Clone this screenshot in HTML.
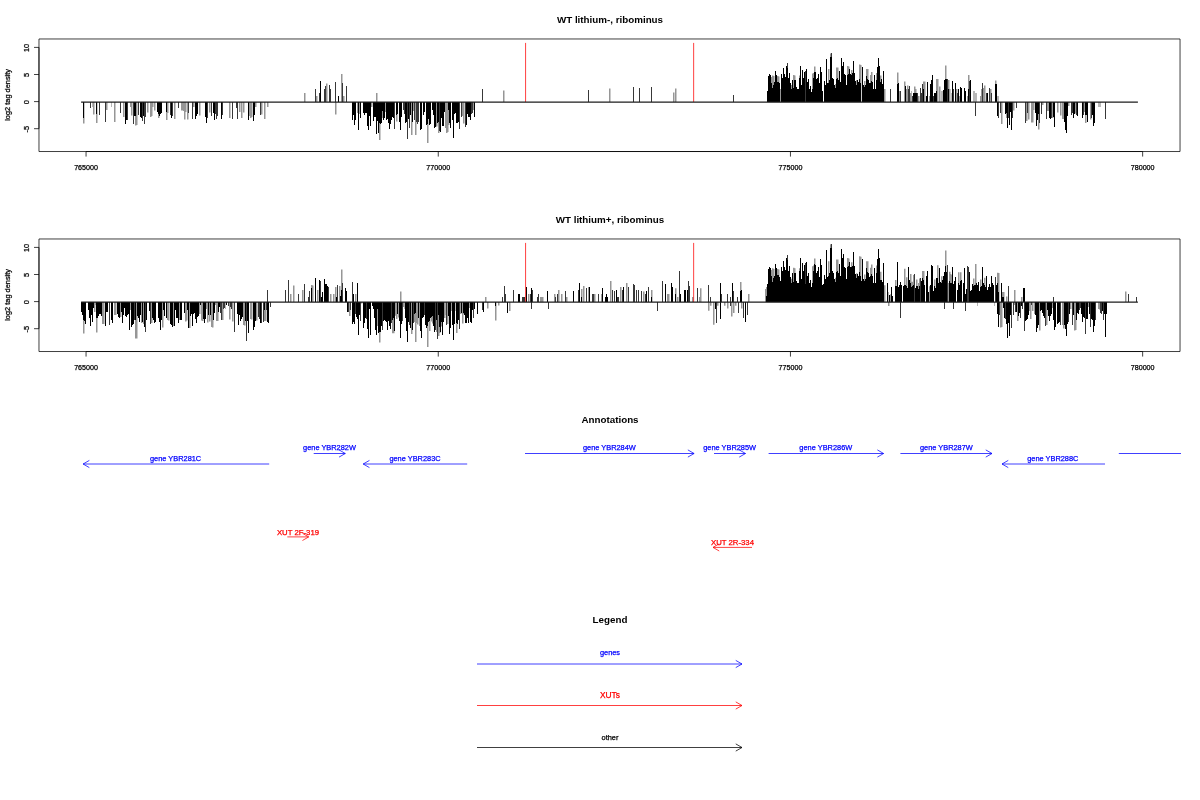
<!DOCTYPE html>
<html lang="en"><head><meta charset="utf-8"><title>WT lithium ribominus tag density</title>
<style>html,body{margin:0;padding:0;background:#fff}svg{display:block}text{font-family:'Liberation Sans', sans-serif;fill:#000}.ax{font-size:7.15px}.yl{font-size:7.4px}.ti{font-size:9.8px;font-weight:bold}.an{font-size:7.4px;stroke-width:0.25px}.ax{stroke:#000;stroke-width:0.25px}</style></head><body>
<svg width="1200" height="800" viewBox="0 0 1200 800">
<rect width="1200" height="800" fill="#fff"/>
<g class="bars" fill="none" stroke-width="1" shape-rendering="crispEdges">
<path d="M92.5 102v5M111.5 102v5M911.5 102v-11.1M941.5 102v-11.1M942.5 102v-11.1M951.5 102v-9.1M973.5 102v-11.1M974.5 102v-11.1M975.5 102v-9.1M976.5 102v-9.1M997.5 102v-6.1M998.5 102v-6.1M1098.5 102v5M1099.5 102v5M1100.5 102v5" stroke="#b8b8b8"/>
<path d="M83.75 102v21.5M93.75 102v12.5M96.75 102v21M106.75 102v8M114.75 102v20M123.75 102v15M130.75 102v5M131.75 102v13.5M135.75 102v23.5M136.75 102v23M147.75 102v10.5M150.75 102v15M151.75 102v14M152.75 102v5M154.75 102v8.5M158.75 102v16M166.75 102v18M167.75 102v11M174.75 102v17M181.75 102v8.5M182.75 102v8.5M183.75 102v9M184.75 102v17.5M185.75 102v10M187.75 102v17.5M193.75 102v5M199.75 102v13.5M209.75 102v10.5M229.75 102v16M239.75 102v10M241.75 102v16M243.75 102v10.5M249.75 102v14M250.75 102v16M251.75 102v15M255.75 102v5M261.75 102v12.5M264.75 102v17M267.75 102v5M304.75 102v-9.1M316.75 102v-6.1M326.75 102v-18.6M335.75 102v12.5M341.75 102v-28.1M343.75 102v-6.1M357.75 102v11M359.75 102v12M371.75 102v5M376.75 102v-9.1M379.75 102v38M382.75 102v16M385.75 102v10M396.75 102v19.5M411.75 102v33M413.75 102v9M415.75 102v33M427.75 102v41M436.75 102v24.5M438.75 102v31M445.75 102v26M446.75 102v31M447.75 102v30M448.75 102v23M462.75 102v14M463.75 102v21.5M473.75 102v8M503.75 102v-11.6M609.75 102v-13.6M673.75 102v-9.6M675.75 102v-13.6M771.75 102v-25.1M772.75 102v-26.6M773.75 102v-26.1M777.75 102v-26.1M778.75 102v-25.6M780.75 102v-13.1M791.75 102v-17.1M793.75 102v-27.1M794.75 102v-26.6M799.75 102v-26.6M812.75 102v-28.6M813.75 102v-29.1M814.75 102v-35.6M828.75 102v-33.1M830.75 102v-48.6M835.75 102v-18.1M836.75 102v-34.6M837.75 102v-34.6M847.75 102v-36.1M848.75 102v-35.6M851.75 102v-32.1M856.75 102v-22.1M859.75 102v-37.6M860.75 102v-37.1M864.75 102v-21.1M866.75 102v-33.1M867.75 102v-33.1M870.75 102v-27.1M871.75 102v-30.1M876.75 102v-29.1M880.75 102v-26.6M884.75 102v-13.1M897.75 102v-29.6M899.75 102v-11.1M904.75 102v-20.6M906.75 102v-13.1M907.75 102v-16.6M910.75 102v-9.1M914.75 102v-15.6M915.75 102v-13.1M918.75 102v-6.1M923.75 102v-20.6M924.75 102v-20.6M929.75 102v-6.1M936.75 102v-23.1M937.75 102v-23.1M939.75 102v-15.6M945.75 102v-36.6M948.75 102v-22.1M949.75 102v-13.1M956.75 102v-13.1M959.75 102v-6.1M967.75 102v-6.1M968.75 102v-27.1M980.75 102v-6.1M981.75 102v-13.1M983.75 102v-14.1M984.75 102v-16.6M990.75 102v-13.1M995.75 102v-21.6M1001.75 102v22M1006.75 102v16M1013.75 102v8.5M1026.75 102v19M1028.75 102v17.5M1031.75 102v20.5M1032.75 102v20.5M1033.75 102v8M1038.75 102v27.5M1042.75 102v3M1047.75 102v9M1048.75 102v9M1052.75 102v16M1057.75 102v10.5M1060.75 102v13.5M1062.75 102v17M1063.75 102v17M1068.75 102v4M1075.75 102v11.5M1084.75 102v10M1085.75 102v21M1090.75 102v17.5" stroke="#969696" stroke-width="1.5" shape-rendering="auto"/>
<path d="M90.5 102v5.5M99.5 102v12.5M105.5 102v19.5M120.5 102v11M127.5 102v17.5M133.5 102v22M138.5 102v12.5M142.5 102v19M144.5 102v22M145.5 102v15M170.5 102v13M172.5 102v14M178.5 102v5.5M188.5 102v11M192.5 102v17M207.5 102v16M211.5 102v13.5M215.5 102v12M216.5 102v16.5M217.5 102v14M222.5 102v13M232.5 102v17M236.5 102v6M237.5 102v17M260.5 102v12.5M315.5 102v-13.1M319.5 102v-9.1M324.5 102v-13.1M325.5 102v-16.1M329.5 102v-17.1M330.5 102v-13.1M335.5 102v-20.1M342.5 102v-18.6M346.5 102v-16.1M394.5 102v27M403.5 102v8M404.5 102v12M407.5 102v37M409.5 102v26M414.5 102v18M416.5 102v20M417.5 102v22M418.5 102v20M439.5 102v29M459.5 102v27M461.5 102v14.5M465.5 102v24.5M471.5 102v12M472.5 102v11M482.5 102v-13.1M588.5 102v-11.6M633.5 102v-15.1M639.5 102v-13.6M651.5 102v-15.1M733.5 102v-6.6M787.5 102v-39.1M805.5 102v-31.1M831.5 102v-48.6M890.5 102v-13.1M900.5 102v-11.1M908.5 102v-13.1M909.5 102v-15.6M912.5 102v-6.1M917.5 102v-9.1M920.5 102v-14.1M921.5 102v-9.1M922.5 102v-17.6M933.5 102v-6.1M947.5 102v-22.6M953.5 102v-13.1M957.5 102v-9.1M969.5 102v-21.1M975.5 102v13.8M982.5 102v-19.1M986.5 102v-9.1M989.5 102v-14.1M991.5 102v-9.1M998.5 102v16M1000.5 102v11M1008.5 102v16M1012.5 102v16M1016.5 102v5.5M1025.5 102v21M1027.5 102v11M1039.5 102v21M1041.5 102v12M1046.5 102v17M1051.5 102v15.5M1071.5 102v12.5M1072.5 102v11M1076.5 102v13M1083.5 102v12.5M1091.5 102v15.5M1105.5 102v17" stroke="#383838"/>
<path d="M83.5 102v16M96.5 102v12M125.5 102v22M126.5 102v18M134.5 102v14M135.5 102v14M140.5 102v15M141.5 102v16M143.5 102v14M157.5 102v10M158.5 102v12M159.5 102v14M160.5 102v12M161.5 102v10.5M166.5 102v10M171.5 102v16M195.5 102v17M196.5 102v14M197.5 102v12M205.5 102v15M206.5 102v20.5M213.5 102v11M214.5 102v17.5M221.5 102v17M248.5 102v17.5M253.5 102v18.5M254.5 102v13M320.5 102v-21.1M338.5 102v-6.1M352.5 102v18M353.5 102v13M354.5 102v22.5M355.5 102v17.5M358.5 102v27.5M360.5 102v16M363.5 102v11M364.5 102v12.5M365.5 102v11M366.5 102v11M367.5 102v24M368.5 102v28M369.5 102v14M370.5 102v24M373.5 102v19M374.5 102v15M375.5 102v15M376.5 102v31.5M377.5 102v19M378.5 102v31M379.5 102v21M380.5 102v22M381.5 102v21M382.5 102v9M383.5 102v18M384.5 102v16M386.5 102v18M387.5 102v17M388.5 102v21M389.5 102v26.5M390.5 102v22M391.5 102v18M392.5 102v15M393.5 102v15.5M396.5 102v12.5M397.5 102v12M399.5 102v20M400.5 102v27.5M401.5 102v15M405.5 102v21M406.5 102v20M408.5 102v17M410.5 102v13M412.5 102v19.5M420.5 102v28M421.5 102v27M423.5 102v13M424.5 102v10M426.5 102v23M427.5 102v22M428.5 102v17M429.5 102v23M430.5 102v22M432.5 102v8M433.5 102v12.5M434.5 102v26M435.5 102v25M437.5 102v21M438.5 102v20M440.5 102v29.5M441.5 102v16M442.5 102v24M443.5 102v24M444.5 102v10M448.5 102v8M449.5 102v21M450.5 102v26M452.5 102v18M453.5 102v36M454.5 102v12M455.5 102v10.5M456.5 102v21M457.5 102v21M458.5 102v19.5M466.5 102v23M467.5 102v12M468.5 102v14.5M469.5 102v15M470.5 102v17.5M474.5 102v15M767.5 102v-11.1M768.5 102v-26.1M769.5 102v-27.6M770.5 102v-27.1M771.5 102v-19.1M772.5 102v-14.1M773.5 102v-17.1M774.5 102v-20.1M775.5 102v-30.6M776.5 102v-27.1M777.5 102v-20.1M778.5 102v-20.1M779.5 102v-19.1M781.5 102v-27.6M782.5 102v-24.1M783.5 102v-33.6M784.5 102v-28.1M785.5 102v-25.1M786.5 102v-35.6M787.5 102v-34.1M788.5 102v-24.1M789.5 102v-28.6M790.5 102v-19.1M791.5 102v-13.1M792.5 102v-22.1M793.5 102v-14.1M794.5 102v-22.1M795.5 102v-22.1M796.5 102v-15.1M797.5 102v-13.1M798.5 102v-13.1M799.5 102v-24.1M800.5 102v-35.9M801.5 102v-17.1M802.5 102v-31.6M803.5 102v-24.1M804.5 102v-29.6M806.5 102v-32.6M807.5 102v-20.1M808.5 102v-22.6M809.5 102v-13.1M810.5 102v-15.6M811.5 102v-10.1M812.5 102v-13.1M813.5 102v-24.1M814.5 102v-30.1M815.5 102v-30.1M816.5 102v-22.6M817.5 102v-24.1M818.5 102v-27.6M819.5 102v-19.1M820.5 102v-35.1M821.5 102v-30.1M822.5 102v-11.1M824.5 102v-20.6M825.5 102v-17.1M826.5 102v-43.1M827.5 102v-19.1M828.5 102v-19.1M829.5 102v-22.1M830.5 102v-45.1M831.5 102v-44.6M832.5 102v-24.1M833.5 102v-22.6M834.5 102v-17.1M835.5 102v-14.1M836.5 102v-23.1M837.5 102v-24.1M838.5 102v-22.1M839.5 102v-30.6M840.5 102v-20.1M841.5 102v-44.1M842.5 102v-36.1M843.5 102v-39.6M844.5 102v-28.1M845.5 102v-26.6M846.5 102v-17.1M847.5 102v-27.1M848.5 102v-28.1M849.5 102v-32.6M850.5 102v-28.1M851.5 102v-27.1M852.5 102v-29.1M853.5 102v-41.1M854.5 102v-29.1M855.5 102v-21.1M856.5 102v-17.1M857.5 102v-21.6M858.5 102v-20.1M859.5 102v-23.1M860.5 102v-19.1M862.5 102v-35.1M863.5 102v-17.1M864.5 102v-15.1M865.5 102v-17.1M866.5 102v-26.1M867.5 102v-23.1M868.5 102v-22.1M869.5 102v-19.1M870.5 102v-19.1M871.5 102v-21.1M872.5 102v-20.1M873.5 102v-13.1M874.5 102v-26.6M875.5 102v-13.1M876.5 102v-22.1M877.5 102v-35.1M878.5 102v-44.1M879.5 102v-36.1M880.5 102v-20.1M881.5 102v-23.1M882.5 102v-18.1M883.5 102v-31.1M897.5 102v-18.1M898.5 102v-18.6M905.5 102v-16.1M913.5 102v-9.1M914.5 102v-9.1M915.5 102v-9.1M916.5 102v-9.1M923.5 102v-13.1M926.5 102v-6.1M927.5 102v-20.1M930.5 102v-17.6M931.5 102v-22.1M932.5 102v-27.1M934.5 102v-9.1M935.5 102v-9.1M936.5 102v-11.1M943.5 102v-11.6M944.5 102v-22.1M945.5 102v-22.6M946.5 102v-22.6M948.5 102v-13.1M952.5 102v-21.1M955.5 102v-19.1M958.5 102v-13.1M960.5 102v-14.6M961.5 102v-14.1M964.5 102v-14.1M965.5 102v-11.1M968.5 102v-13.1M970.5 102v-22.1M987.5 102v-9.1M995.5 102v-18.1M996.5 102v-18.1M997.5 102v14M1005.5 102v12M1006.5 102v11M1007.5 102v26M1009.5 102v23M1010.5 102v10M1011.5 102v27.5M1035.5 102v10.5M1036.5 102v23.5M1037.5 102v18M1038.5 102v12M1049.5 102v15.5M1050.5 102v17M1053.5 102v14.5M1054.5 102v24.5M1064.5 102v20M1065.5 102v27.5M1066.5 102v30.8M1067.5 102v14M1073.5 102v16M1074.5 102v12M1077.5 102v14M1082.5 102v15.5M1085.5 102v13M1086.5 102v13M1087.5 102v20M1092.5 102v13M1093.5 102v23.5M1094.5 102v21" stroke="#000"/>
</g>
<path d="M525.58 42.9 V102 M693.65 42.9 V102" stroke="#ff0000" stroke-width="0.75" fill="none"/>
<line x1="81.1" y1="102.15" x2="1137.9" y2="102.15" stroke="#1c1c1c" stroke-width="1.2"/>
<rect x="38.97" y="38.97" width="1141.07" height="112.56" fill="none" stroke="#000" stroke-width="0.75" stroke-linejoin="round"/>
<path d="M38.97 47.4V128.7M86.05 151.53H1142.65M38.97 47.4H34.02M38.97 74.5H34.02M38.97 101.6H34.02M38.97 128.7H34.02M86.05 151.53V156.58M438.25 151.53V156.58M790.45 151.53V156.58M1142.65 151.53V156.58" stroke="#000" stroke-width="0.75" fill="none"/>
<text class="ax yl" text-anchor="middle" transform="translate(29.05 47.9) rotate(-90)">10</text>
<text class="ax yl" text-anchor="middle" transform="translate(29.05 75) rotate(-90)">5</text>
<text class="ax yl" text-anchor="middle" transform="translate(29.05 102.1) rotate(-90)">0</text>
<text class="ax yl" text-anchor="middle" transform="translate(29.05 129.2) rotate(-90)">-5</text>
<text class="ax" text-anchor="middle" x="86.05" y="169.9">765000</text>
<text class="ax" text-anchor="middle" x="438.25" y="169.9">770000</text>
<text class="ax" text-anchor="middle" x="790.45" y="169.9">775000</text>
<text class="ax" text-anchor="middle" x="1142.65" y="169.9">780000</text>
<text class="ax yl" text-anchor="middle" transform="translate(9.85 94.9) rotate(-90)">log2 tag density</text>
<text class="ti" text-anchor="middle" x="610" y="23">WT lithium-, ribominus</text>
<g class="bars" fill="none" stroke-width="1" shape-rendering="crispEdges">
<path d="M225.5 302v7M404.5 302v7.4M445.5 302v12.6M455.5 302v9M888.5 302v-10.1M977.5 302v4M994.5 302v4" stroke="#b8b8b8"/>
<path d="M83.75 302v31.5M94.75 302v10M95.75 302v3M96.75 302v30.5M102.75 302v22M103.75 302v22M114.75 302v13M115.75 302v13M120.75 302v15M130.75 302v8M135.75 302v36.5M136.75 302v36.5M141.75 302v21M143.75 302v22M151.75 302v21M162.75 302v25.5M167.75 302v18M168.75 302v18.5M173.75 302v24M179.75 302v18M185.75 302v19.5M186.75 302v18.5M189.75 302v26M199.75 302v12M201.75 302v18.5M202.75 302v19M206.75 302v7M207.75 302v20.5M209.75 302v19.5M211.75 302v25M212.75 302v25.5M215.75 302v3M216.75 302v19M217.75 302v19M222.75 302v18M229.75 302v17.5M232.75 302v19.5M243.75 302v23M244.75 302v23.5M250.75 302v17M251.75 302v17.5M256.75 302v18.5M264.75 302v19M265.75 302v19M290.75 302v-8.1M293.75 302v-16.6M302.75 302v-12.1M311.75 302v-17.1M312.75 302v-16.6M317.75 302v-12.1M330.75 302v-8.1M333.75 302v-8.1M335.75 302v-15.1M339.75 302v-16.1M341.75 302v-32.6M349.75 302v14M355.75 302v-8.1M361.75 302v1.5M377.75 302v24M379.75 302v40.4M392.75 302v31.3M393.75 302v31.3M395.75 302v13.7M396.75 302v17M398.75 302v15.6M400.75 302v-10.6M403.75 302v5M411.75 302v32M414.75 302v20M415.75 302v40M416.75 302v21M417.75 302v22.4M419.75 302v24M427.75 302v45M429.75 302v29M431.75 302v19.4M432.75 302v21.6M436.75 302v30M438.75 302v34M439.75 302v31M441.75 302v24.5M444.75 302v16M447.75 302v22M451.75 302v9M456.75 302v31M460.75 302v12M462.75 302v21.6M463.75 302v12M469.75 302v6M485.75 302v-5.1M487.75 302v6.5M495.75 302v18.5M498.75 302v3.5M509.75 302v9M528.75 302v-8.1M540.75 302v-5.1M541.75 302v-5.1M542.75 302v-5.1M554.75 302v-8.1M558.75 302v-12.1M561.75 302v-8.1M566.75 302v-5.1M581.75 302v-13.1M583.75 302v-16.1M588.75 302v-14.9M594.75 302v-8.1M601.75 302v-8.1M610.75 302v-20.9M620.75 302v-14.9M626.75 302v-18.9M643.75 302v-10.4M651.75 302v-12.1M667.75 302v-8.1M668.75 302v-8.1M675.75 302v-13.8M677.75 302v-5.1M692.75 302v-5.1M699.75 302v-5.1M700.75 302v-13.8M708.75 302v8.8M710.75 302v3.7M713.75 302v22.8M717.75 302v3.7M724.75 302v3.7M727.75 302v6.5M731.75 302v14.4M733.75 302v11M735.75 302v3.7M740.75 302v-20M741.75 302v6.5M748.75 302v-8.1M765.75 302v-13.1M766.75 302v-15.1M771.75 302v-32M772.75 302v-33.65M773.75 302v-33.1M777.75 302v-33.1M778.75 302v-32.55M780.75 302v-18.8M791.75 302v-23.2M793.75 302v-34.2M794.75 302v-33.65M799.75 302v-33.65M812.75 302v-35.85M813.75 302v-36.4M814.75 302v-43.55M828.75 302v-40.8M830.75 302v-57.85M835.75 302v-24.3M836.75 302v-42.45M837.75 302v-42.45M847.75 302v-44.1M848.75 302v-43.55M851.75 302v-39.7M856.75 302v-28.7M859.75 302v-45.75M860.75 302v-45.2M864.75 302v-27.6M866.75 302v-40.8M867.75 302v-40.8M870.75 302v-34.2M871.75 302v-37.5M876.75 302v-36.4M880.75 302v-30.35M884.75 302v-16.85M888.75 302v4M890.75 302v-7.85M895.75 302v-21.91M904.75 302v-33.16M906.75 302v-24.72M910.75 302v-28.1M911.75 302v-20.22M912.75 302v-20.22M913.75 302v-26.97M916.75 302v-22.47M918.75 302v-19.1M919.75 302v-23.6M922.75 302v-30.91M923.75 302v-30.91M929.75 302v-15.72M934.75 302v-22.47M937.75 302v-36.87M941.75 302v-25.85M945.75 302v-51.49M948.75 302v-19.1M949.75 302v-30.35M950.75 302v-28.1M951.75 302v-26.97M958.75 302v-29.78M960.75 302v-29.78M973.75 302v-23.6M975.75 302v-38M980.75 302v-22.47M984.75 302v-24.16M997.75 302v-29.22M998.75 302v-29.1M1000.75 302v25.5M1001.75 302v25M1002.75 302v-10.1M1003.75 302v-10.1M1006.75 302v-5.5M1014.75 302v3M1014.75 302v-12.1M1017.75 302v19M1021.75 302v-5.1M1029.75 302v9M1030.75 302v17M1032.75 302v9M1034.75 302v12M1039.75 302v28.5M1046.75 302v23M1052.75 302v6M1062.75 302v23M1063.75 302v26.5M1070.75 302v7M1074.75 302v28.5M1075.75 302v28M1088.75 302v5M1098.75 302v7M1099.75 302v7.5M1125.75 302v-10.4" stroke="#969696" stroke-width="1.5" shape-rendering="auto"/>
<path d="M109.5 302v23M134.5 302v18M145.5 302v29.5M150.5 302v21.5M220.5 302v11M221.5 302v18M223.5 302v7M224.5 302v6M228.5 302v4M230.5 302v5M231.5 302v7M234.5 302v30M246.5 302v38.5M258.5 302v15M259.5 302v17M261.5 302v21M263.5 302v20M266.5 302v8M267.5 302v-12.1M270.5 302v4.5M285.5 302v-12.1M288.5 302v-21.6M298.5 302v-8.1M304.5 302v-17.6M308.5 302v-5.1M309.5 302v-10.6M320.5 302v-20.6M328.5 302v-15.1M337.5 302v-17.1M342.5 302v-19.1M348.5 302v9.5M350.5 302v8M352.5 302v-20.1M355.5 302v12M360.5 302v19M366.5 302v17.4M382.5 302v27.5M391.5 302v20.8M402.5 302v18.6M409.5 302v23M413.5 302v21M424.5 302v12.6M435.5 302v28M437.5 302v37.4M446.5 302v23M459.5 302v27M473.5 302v16M482.5 302v7.7M502.5 302v-5.1M504.5 302v-16.1M505.5 302v-8.1M513.5 302v-12.1M522.5 302v-5.1M523.5 302v-5.1M524.5 302v-5.1M530.5 302v-7.6M531.5 302v6.5M532.5 302v-12.1M537.5 302v-5.1M538.5 302v-8.1M548.5 302v6.5M555.5 302v-5.1M557.5 302v-8.1M565.5 302v-10.8M578.5 302v-12.1M586.5 302v-13.8M592.5 302v-8.1M593.5 302v-8.1M598.5 302v-8.1M612.5 302v-12.1M614.5 302v-10.8M617.5 302v-5.1M618.5 302v-5.1M622.5 302v-12.1M628.5 302v-14.9M633.5 302v-17.7M634.5 302v-16.6M636.5 302v-12.1M638.5 302v-12.1M641.5 302v-10.8M645.5 302v-8.1M648.5 302v-14.9M657.5 302v9.3M662.5 302v-21.3M679.5 302v-31.1M688.5 302v-20.9M689.5 302v-16.1M697.5 302v-13.8M708.5 302v-17M710.5 302v-5.1M716.5 302v20.6M721.5 302v-8.1M727.5 302v-8.1M730.5 302v3.7M730.5 302v-5.1M733.5 302v-10.8M737.5 302v-5.1M738.5 302v11M743.5 302v15.5M747.5 302v13.3M787.5 302v-47.4M805.5 302v-38.6M831.5 302v-57.85M900.5 302v16M914.5 302v-28.1M920.5 302v-24.16M944.5 302v7M947.5 302v-37.32M953.5 302v7M965.5 302v9.3M967.5 302v-35.97M968.5 302v-34.62M995.5 302v-25.1M995.5 302v-25.28M999.5 302v13M1005.5 302v17M1008.5 302v-15.8M1011.5 302v26M1013.5 302v12.5M1015.5 302v9.5M1020.5 302v16M1022.5 302v7M1024.5 302v28.5M1031.5 302v3M1045.5 302v23.5M1053.5 302v-5.1M1060.5 302v22.5M1068.5 302v20M1072.5 302v22.5M1079.5 302v8M1080.5 302v6M1085.5 302v31.5M1090.5 302v24.5M1095.5 302v18M1100.5 302v11M1101.5 302v11.5M1103.5 302v18M1128.5 302v-8.1M1136.5 302v-5.1" stroke="#383838"/>
<path d="M81.5 302v10M82.5 302v13M83.5 302v18M84.5 302v19M85.5 302v22M88.5 302v8M89.5 302v16M90.5 302v24M91.5 302v13M92.5 302v20M93.5 302v6M96.5 302v16M97.5 302v16M98.5 302v14M99.5 302v12M100.5 302v12M101.5 302v14M105.5 302v24M106.5 302v10M107.5 302v10M111.5 302v18M112.5 302v20.5M117.5 302v12M118.5 302v15M119.5 302v15.5M121.5 302v10M122.5 302v20.5M123.5 302v13M124.5 302v6M125.5 302v14M126.5 302v15M127.5 302v13M128.5 302v12M129.5 302v28M131.5 302v24.5M132.5 302v23M133.5 302v22M135.5 302v18M137.5 302v14M138.5 302v16M139.5 302v19.5M140.5 302v13M142.5 302v20M144.5 302v25M146.5 302v18M149.5 302v9M152.5 302v16M153.5 302v18M154.5 302v20.5M155.5 302v20M158.5 302v16M159.5 302v19.5M160.5 302v27.5M161.5 302v18M163.5 302v8M164.5 302v14M166.5 302v16M170.5 302v22M171.5 302v22.5M172.5 302v25M174.5 302v23.5M175.5 302v8M176.5 302v16M177.5 302v16M178.5 302v21M180.5 302v18M181.5 302v17.5M184.5 302v11M187.5 302v8M188.5 302v25.5M190.5 302v14M191.5 302v12M192.5 302v23.5M193.5 302v12M194.5 302v11M195.5 302v17M196.5 302v21M197.5 302v15M198.5 302v14M200.5 302v3M203.5 302v17M204.5 302v20.5M205.5 302v17M208.5 302v13M210.5 302v13M213.5 302v18M214.5 302v11M218.5 302v10M219.5 302v5M226.5 302v3M237.5 302v12M238.5 302v22.5M239.5 302v13M240.5 302v18.5M241.5 302v17M242.5 302v15M245.5 302v19M247.5 302v19M248.5 302v30.5M253.5 302v27.5M254.5 302v25M255.5 302v19M260.5 302v21M264.5 302v8M267.5 302v19.5M268.5 302v20.5M311.5 302v-14.1M315.5 302v-24.1M319.5 302v-22.1M321.5 302v-5.1M322.5 302v-10.1M324.5 302v-23.1M325.5 302v-17.6M326.5 302v-17.6M327.5 302v-16.1M336.5 302v-5.1M340.5 302v-6.1M341.5 302v-12.1M345.5 302v-14.1M346.5 302v-11.1M347.5 302v9.7M352.5 302v22M353.5 302v19.5M353.5 302v-7.6M354.5 302v21.5M356.5 302v14.7M357.5 302v17.4M357.5 302v-19.1M358.5 302v33M359.5 302v12.7M363.5 302v26M364.5 302v20.8M365.5 302v16M367.5 302v27M368.5 302v35.6M369.5 302v7.3M370.5 302v32.6M372.5 302v4M373.5 302v7.3M374.5 302v16M375.5 302v28M376.5 302v33.3M377.5 302v7.3M378.5 302v30.6M379.5 302v30M380.5 302v30M381.5 302v23.5M383.5 302v19.4M384.5 302v18M385.5 302v18.8M386.5 302v19.8M387.5 302v28.2M388.5 302v19.4M389.5 302v23.5M390.5 302v27.2M392.5 302v18M393.5 302v16M394.5 302v28.6M397.5 302v12M399.5 302v19.4M400.5 302v35.5M401.5 302v22.4M405.5 302v16.4M406.5 302v29M407.5 302v39.6M408.5 302v20M410.5 302v26M412.5 302v28.4M414.5 302v12M415.5 302v11M418.5 302v16.4M420.5 302v29M421.5 302v35.5M422.5 302v16M423.5 302v15M425.5 302v23M426.5 302v26M427.5 302v24M428.5 302v20M429.5 302v18.5M430.5 302v16.4M431.5 302v15M432.5 302v13.5M433.5 302v24M434.5 302v30M436.5 302v18M438.5 302v12.6M439.5 302v25M440.5 302v30M441.5 302v20M442.5 302v32.5M443.5 302v20M448.5 302v13.5M449.5 302v31.7M450.5 302v26M452.5 302v23M453.5 302v38M454.5 302v22.4M456.5 302v21M457.5 302v22.4M458.5 302v18M461.5 302v11M463.5 302v10.5M464.5 302v12.6M465.5 302v21M466.5 302v21M467.5 302v15.6M468.5 302v21M470.5 302v20M471.5 302v20.5M472.5 302v8M474.5 302v7.4M477.5 302v11.5M483.5 302v9.6M495.5 302v4M507.5 302v11M518.5 302v-8.1M519.5 302v-8.1M526.5 302v-15.1M531.5 302v-13.8M547.5 302v-10.8M573.5 302v-10.8M579.5 302v-18.6M581.5 302v-5.1M589.5 302v-14.9M602.5 302v-13.8M605.5 302v-5.1M606.5 302v-8.1M607.5 302v-5.1M616.5 302v-12.1M623.5 302v-14.9M646.5 302v-10.8M651.5 302v-5.1M665.5 302v-17.7M671.5 302v-18.9M672.5 302v-14.9M675.5 302v-8.1M680.5 302v-8.1M684.5 302v-12.1M685.5 302v-12.1M687.5 302v-12.1M715.5 302v6.5M720.5 302v17.2M720.5 302v-18.6M732.5 302v-19.1M740.5 302v-11.1M741.5 302v-12.1M745.5 302v20M766.5 302v-6.1M767.5 302v-16.6M767.5 302v-18.1M768.5 302v-18.1M768.5 302v-33.1M769.5 302v-18.1M769.5 302v-34.75M770.5 302v-18.1M770.5 302v-34.2M771.5 302v-18.1M771.5 302v-25.9M772.5 302v-18.1M772.5 302v-20.4M773.5 302v-18.1M773.5 302v-23.7M774.5 302v-18.1M774.5 302v-26.5M775.5 302v-18.1M775.5 302v-38.05M776.5 302v-18.1M776.5 302v-34.2M777.5 302v-18.1M777.5 302v-27M778.5 302v-18.1M778.5 302v-27M779.5 302v-18.1M779.5 302v-25.4M780.5 302v-18.1M780.5 302v-21.1M781.5 302v-18.1M781.5 302v-34.75M782.5 302v-18.1M782.5 302v-30.9M783.5 302v-18.1M783.5 302v-41.35M784.5 302v-18.1M784.5 302v-35.3M785.5 302v-18.1M785.5 302v-32M786.5 302v-18.1M786.5 302v-43.55M787.5 302v-18.1M787.5 302v-42.4M788.5 302v-18.1M788.5 302v-30.9M789.5 302v-18.1M789.5 302v-35.85M790.5 302v-18.1M790.5 302v-25.4M791.5 302v-18.1M791.5 302v-19.3M792.5 302v-18.1M792.5 302v-28.7M793.5 302v-18.1M793.5 302v-20.4M794.5 302v-18.1M794.5 302v-29.2M795.5 302v-18.1M795.5 302v-28.7M796.5 302v-18.1M796.5 302v-21M797.5 302v-18.1M797.5 302v-18.8M798.5 302v-18.1M798.5 302v-18.8M799.5 302v-18.1M799.5 302v-31.4M800.5 302v-18.1M800.5 302v-43.88M801.5 302v-18.1M801.5 302v-23.2M802.5 302v-18.1M802.5 302v-39.15M803.5 302v-18.1M803.5 302v-30.9M804.5 302v-18.1M804.5 302v-36.95M805.5 302v-18.1M806.5 302v-18.1M806.5 302v-40.25M807.5 302v-18.1M807.5 302v-26.5M808.5 302v-18.1M808.5 302v-29.25M809.5 302v-18.1M809.5 302v-18.8M810.5 302v-18.1M810.5 302v-21.55M811.5 302v-15.5M812.5 302v-18.1M812.5 302v-19.3M813.5 302v-18.1M813.5 302v-31.4M814.5 302v-18.1M814.5 302v-38M815.5 302v-18.1M815.5 302v-37.5M816.5 302v-18.1M816.5 302v-29.25M817.5 302v-18.1M817.5 302v-30.9M818.5 302v-18.1M818.5 302v-34.75M819.5 302v-18.1M819.5 302v-25.4M820.5 302v-18.1M820.5 302v-43M821.5 302v-18.1M821.5 302v-37.5M822.5 302v-16.6M823.5 302v-14.1M823.5 302v-18.1M824.5 302v-18.1M824.5 302v-27.05M825.5 302v-23.2M826.5 302v-18.1M826.5 302v-51.8M827.5 302v-18.1M827.5 302v-25.4M828.5 302v-18.1M828.5 302v-25.9M829.5 302v-18.1M829.5 302v-28.7M830.5 302v-18.1M830.5 302v-54.5M831.5 302v-18.1M831.5 302v-53.95M832.5 302v-18.1M832.5 302v-30.9M833.5 302v-18.1M833.5 302v-29.25M834.5 302v-18.1M834.5 302v-23.2M835.5 302v-18.1M835.5 302v-20.4M836.5 302v-18.1M836.5 302v-30.3M837.5 302v-18.1M837.5 302v-31.4M838.5 302v-18.1M838.5 302v-28.7M839.5 302v-18.1M839.5 302v-38.05M840.5 302v-18.1M840.5 302v-26.5M841.5 302v-18.1M841.5 302v-52.9M842.5 302v-18.1M842.5 302v-44.1M843.5 302v-18.1M843.5 302v-47.95M844.5 302v-18.1M844.5 302v-35.3M845.5 302v-18.1M845.5 302v-33.65M846.5 302v-18.1M846.5 302v-23.2M847.5 302v-18.1M847.5 302v-34.7M848.5 302v-18.1M848.5 302v-35.8M849.5 302v-18.1M849.5 302v-40.25M850.5 302v-18.1M850.5 302v-35.3M851.5 302v-18.1M851.5 302v-34.7M852.5 302v-18.1M852.5 302v-36.4M853.5 302v-18.1M853.5 302v-49.6M854.5 302v-18.1M854.5 302v-36.4M855.5 302v-18.1M855.5 302v-27.6M856.5 302v-18.1M856.5 302v-23.7M857.5 302v-18.1M857.5 302v-28.15M858.5 302v-18.1M858.5 302v-26.5M859.5 302v-18.1M859.5 302v-30.3M860.5 302v-18.1M860.5 302v-25.9M861.5 302v-18.1M861.5 302v-21.1M862.5 302v-18.1M862.5 302v-43M863.5 302v-18.1M863.5 302v-23.2M864.5 302v-18.1M864.5 302v-21.5M865.5 302v-18.1M865.5 302v-23.2M866.5 302v-18.1M866.5 302v-33.6M867.5 302v-18.1M867.5 302v-30.3M868.5 302v-18.1M868.5 302v-28.7M869.5 302v-18.1M869.5 302v-25.4M870.5 302v-18.1M870.5 302v-25.9M871.5 302v-18.1M871.5 302v-28.1M872.5 302v-18.1M872.5 302v-26.5M873.5 302v-18.8M874.5 302v-18.1M874.5 302v-33.65M875.5 302v-18.1M875.5 302v-18.8M876.5 302v-18.1M876.5 302v-29.2M877.5 302v-18.1M877.5 302v-43M878.5 302v-18.1M878.5 302v-52.9M879.5 302v-18.1M879.5 302v-44.1M880.5 302v-18.1M880.5 302v-22.47M881.5 302v-22.47M882.5 302v-20.34M883.5 302v-39.35M887.5 302v-18.54M889.5 302v-7.17M891.5 302v-15.16M892.5 302v-5.6M895.5 302v-15.72M896.5 302v-15.72M897.5 302v-39.57M898.5 302v-15.27M899.5 302v-16.85M900.5 302v-19.66M901.5 302v-16.85M903.5 302v-15.72M904.5 302v-16.85M905.5 302v-16.85M906.5 302v-15.72M907.5 302v-14.26M908.5 302v-34.85M909.5 302v-22.47M910.5 302v-19.1M911.5 302v-14.6M912.5 302v-15.72M913.5 302v-16.85M915.5 302v-14.26M916.5 302v-15.72M917.5 302v-15.72M918.5 302v-13.47M919.5 302v-15.72M921.5 302v-21.35M922.5 302v-23.6M923.5 302v-22.47M924.5 302v-16.85M926.5 302v-25.85M927.5 302v-30.91M928.5 302v-10.1M930.5 302v-16.85M931.5 302v-37.1M932.5 302v-35.97M933.5 302v-11.22M934.5 302v-15.72M935.5 302v-14.26M936.5 302v-23.6M937.5 302v-23.6M938.5 302v-19.1M939.5 302v-33.95M940.5 302v-20.22M941.5 302v-19.1M942.5 302v-22.47M943.5 302v-25.85M944.5 302v-30.35M945.5 302v-35.97M946.5 302v-30.35M949.5 302v-21.35M950.5 302v-19.1M951.5 302v-19.1M952.5 302v-35.07M953.5 302v-17.97M954.5 302v-21.35M955.5 302v-24.72M957.5 302v-12.35M958.5 302v-19.1M959.5 302v-17.3M960.5 302v-21.35M961.5 302v-22.47M963.5 302v-19.1M964.5 302v-33.95M965.5 302v-7.85M966.5 302v-13.47M969.5 302v-30.35M970.5 302v-11.22M971.5 302v-12.35M972.5 302v-17.97M973.5 302v-15.72M974.5 302v-16.85M975.5 302v-16.85M976.5 302v-19.1M977.5 302v-17.3M978.5 302v-20.22M979.5 302v-11.22M980.5 302v-14.6M981.5 302v-15.72M982.5 302v-34.62M983.5 302v-19.1M984.5 302v-16.85M985.5 302v-14.6M986.5 302v-26.41M987.5 302v-12.35M988.5 302v-14.6M989.5 302v-17.97M990.5 302v-14.6M991.5 302v-26.1M991.5 302v-26.41M992.5 302v-17.1M992.5 302v-19.1M993.5 302v-16.85M993.5 302v-17.1M996.5 302v-11.1M996.5 302v-16.85M997.5 302v12M997.5 302v-19.1M998.5 302v25M998.5 302v-10.1M998.5 302v-10.1M1001.5 302v-19.5M1002.5 302v-5.1M1003.5 302v6M1003.5 302v-5.1M1004.5 302v16M1006.5 302v22M1007.5 302v35.5M1008.5 302v21M1009.5 302v33.5M1010.5 302v13M1016.5 302v10M1018.5 302v14M1019.5 302v11M1021.5 302v4M1023.5 302v-13.9M1024.5 302v-13.9M1025.5 302v19M1026.5 302v18M1027.5 302v17M1028.5 302v13M1035.5 302v13M1036.5 302v29.5M1037.5 302v26M1038.5 302v23M1040.5 302v9M1041.5 302v8M1042.5 302v11M1043.5 302v14M1044.5 302v16M1047.5 302v8M1048.5 302v14M1049.5 302v19M1050.5 302v14M1051.5 302v12M1053.5 302v18M1054.5 302v27.5M1055.5 302v25M1057.5 302v21.5M1058.5 302v21M1059.5 302v20M1064.5 302v23M1065.5 302v27M1066.5 302v34M1067.5 302v22M1069.5 302v12M1073.5 302v13M1076.5 302v18M1077.5 302v11M1078.5 302v11.5M1081.5 302v12M1082.5 302v19.5M1083.5 302v15M1084.5 302v16M1086.5 302v17M1087.5 302v16.5M1089.5 302v12M1091.5 302v17M1092.5 302v18M1093.5 302v29.5M1094.5 302v24M1102.5 302v9M1104.5 302v12M1105.5 302v34.5M1106.5 302v12" stroke="#000"/>
</g>
<path d="M525.58 242.9 V302 M693.65 242.9 V302" stroke="#ff0000" stroke-width="0.75" fill="none"/>
<line x1="81.1" y1="302.15" x2="1137.9" y2="302.15" stroke="#1c1c1c" stroke-width="1.2"/>
<rect x="38.97" y="238.97" width="1141.07" height="112.56" fill="none" stroke="#000" stroke-width="0.75" stroke-linejoin="round"/>
<path d="M38.97 247.4V328.7M86.05 351.53H1142.65M38.97 247.4H34.02M38.97 274.5H34.02M38.97 301.6H34.02M38.97 328.7H34.02M86.05 351.53V356.58M438.25 351.53V356.58M790.45 351.53V356.58M1142.65 351.53V356.58" stroke="#000" stroke-width="0.75" fill="none"/>
<text class="ax yl" text-anchor="middle" transform="translate(29.05 247.9) rotate(-90)">10</text>
<text class="ax yl" text-anchor="middle" transform="translate(29.05 275) rotate(-90)">5</text>
<text class="ax yl" text-anchor="middle" transform="translate(29.05 302.1) rotate(-90)">0</text>
<text class="ax yl" text-anchor="middle" transform="translate(29.05 329.2) rotate(-90)">-5</text>
<text class="ax" text-anchor="middle" x="86.05" y="369.9">765000</text>
<text class="ax" text-anchor="middle" x="438.25" y="369.9">770000</text>
<text class="ax" text-anchor="middle" x="790.45" y="369.9">775000</text>
<text class="ax" text-anchor="middle" x="1142.65" y="369.9">780000</text>
<text class="ax yl" text-anchor="middle" transform="translate(9.85 294.9) rotate(-90)">log2 tag density</text>
<text class="ti" text-anchor="middle" x="610" y="223">WT lithium+, ribominus</text>
<text class="ti" text-anchor="middle" x="610" y="423">Annotations</text>
<path d="M269.2 464H83.1M89.34 460.4L83.1 464L89.34 467.6" stroke="#0000ff" stroke-width="0.75" fill="none" stroke-opacity="1"/>
<text class="an" text-anchor="middle" x="175.6" y="461" style="fill:#0000ff;stroke:#0000ff">gene YBR281C</text>
<path d="M313.7 453.5H345.3M339.06 449.9L345.3 453.5L339.06 457.1" stroke="#0000ff" stroke-width="0.75" fill="none" stroke-opacity="1"/>
<text class="an" text-anchor="middle" x="329.5" y="450.4" style="fill:#0000ff;stroke:#0000ff">gene YBR282W</text>
<path d="M467.2 464H363.2M369.44 460.4L363.2 464L369.44 467.6" stroke="#0000ff" stroke-width="0.75" fill="none" stroke-opacity="1"/>
<text class="an" text-anchor="middle" x="415" y="461" style="fill:#0000ff;stroke:#0000ff">gene YBR283C</text>
<path d="M525 453.5H694.1M687.86 449.9L694.1 453.5L687.86 457.1" stroke="#0000ff" stroke-width="0.75" fill="none" stroke-opacity="1"/>
<text class="an" text-anchor="middle" x="609.4" y="450.4" style="fill:#0000ff;stroke:#0000ff">gene YBR284W</text>
<path d="M714 453.5H745.5M739.26 449.9L745.5 453.5L739.26 457.1" stroke="#0000ff" stroke-width="0.75" fill="none" stroke-opacity="1"/>
<text class="an" text-anchor="middle" x="729.6" y="450.4" style="fill:#0000ff;stroke:#0000ff">gene YBR285W</text>
<path d="M768.6 453.5H883.6M877.36 449.9L883.6 453.5L877.36 457.1" stroke="#0000ff" stroke-width="0.75" fill="none" stroke-opacity="1"/>
<text class="an" text-anchor="middle" x="825.8" y="450.4" style="fill:#0000ff;stroke:#0000ff">gene YBR286W</text>
<path d="M900.4 453.5H992M985.76 449.9L992 453.5L985.76 457.1" stroke="#0000ff" stroke-width="0.75" fill="none" stroke-opacity="1"/>
<text class="an" text-anchor="middle" x="946.4" y="450.4" style="fill:#0000ff;stroke:#0000ff">gene YBR287W</text>
<path d="M1105 464H1002M1008.24 460.4L1002 464L1008.24 467.6" stroke="#0000ff" stroke-width="0.75" fill="none" stroke-opacity="1"/>
<text class="an" text-anchor="middle" x="1052.8" y="461" style="fill:#0000ff;stroke:#0000ff">gene YBR288C</text>
<path d="M1118.8 453.5H1181" stroke="#0000ff" stroke-width="0.75" fill="none" stroke-opacity="1"/>
<path d="M287.3 536.9H308.7M302.46 533.3L308.7 536.9L302.46 540.5" stroke="#ff0000" stroke-width="0.75" fill="none" stroke-opacity="1"/>
<text class="an" text-anchor="middle" x="298" y="534.8" style="fill:#ff0000;stroke:#ff0000;font-size:7.75px">XUT 2F-319</text>
<path d="M752 547.4H713M719.24 543.8L713 547.4L719.24 551" stroke="#ff0000" stroke-width="0.75" fill="none" stroke-opacity="1"/>
<text class="an" text-anchor="middle" x="732.5" y="544.8" style="fill:#ff0000;stroke:#ff0000;font-size:7.75px">XUT 2R-334</text>
<text class="ti" text-anchor="middle" x="610" y="623">Legend</text>
<path d="M477 664H742M735.76 660.4L742 664L735.76 667.6" stroke="#0000ff" stroke-width="0.75" fill="none" stroke-opacity="1"/>
<text class="an" text-anchor="middle" x="610" y="655" style="fill:#0000ff;stroke:#0000ff">genes</text>
<path d="M477 705.5H742M735.76 701.9L742 705.5L735.76 709.1" stroke="#ff0000" stroke-width="0.75" fill="none" stroke-opacity="1"/>
<text class="an" text-anchor="middle" x="610" y="698" style="fill:#ff0000;stroke:#ff0000;font-size:8.4px">XUTs</text>
<path d="M477 747.5H742M735.76 743.9L742 747.5L735.76 751.1" stroke="#000" stroke-width="0.75" fill="none" stroke-opacity="1"/>
<text class="an" text-anchor="middle" x="610" y="740" style="fill:#000;stroke:#000">other</text>
</svg></body></html>
